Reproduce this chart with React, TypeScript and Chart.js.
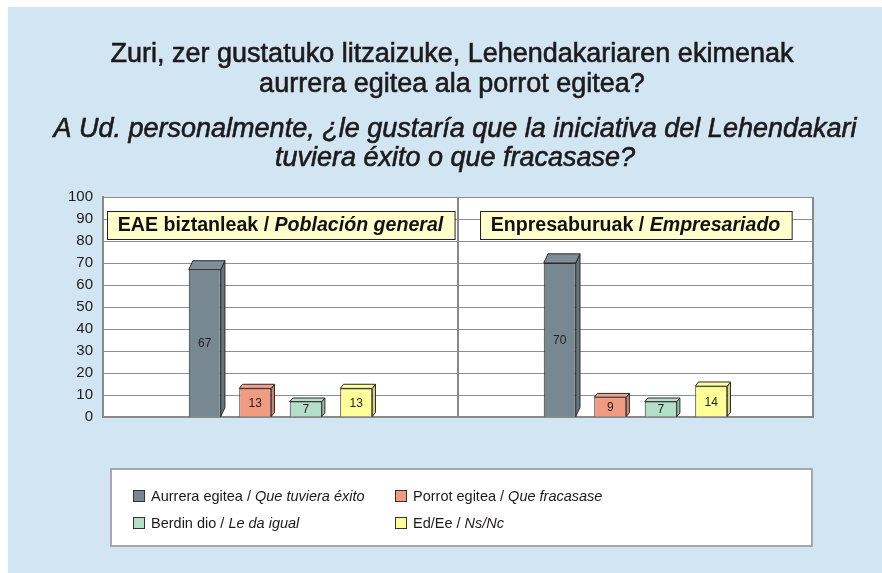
import React, { useEffect, useRef } from 'react';
import { Chart, registerables } from 'chart.js';

Chart.register(...registerables);

const categoriesEu = ['EAE biztanleak', 'Enpresaburuak'];
const categoriesEs = ['Población general', 'Empresariado'];
const seriesEu = ['Aurrera egitea', 'Porrot egitea', 'Berdin dio', 'Ed/Ee'];
const seriesEs = ['Que tuviera éxito', 'Que fracasase', 'Le da igual', 'Ns/Nc'];
const aurreraValues = [67, 70];
const porrotValues = [13, 9];
const berdinValues = [7, 7];
const ededValues = [13, 14];
const yMin = 0;
const yMax = 100;
const yStep = 10;
const titleLines = ['Zuri, zer gustatuko litzaizuke, Lehendakariaren ekimenak', 'aurrera egitea ala porrot egitea?'];
const subtitleLines = ['A Ud. personalmente, ¿le gustaría que la iniciativa del Lehendakari', 'tuviera éxito o que fracasase?'];
const seriesColors = ['#788893', '#f19c82', '#b3dec8', '#ffff99'];

const FAMILY = "'Liberation Sans', Arial, Helvetica, sans-serif";
const TEXT = '#1e1a1b';

function shade(hex: string, amt: number): string {
  const n = parseInt(hex.slice(1), 16);
  const r = (n >> 16) & 255, g = (n >> 8) & 255, b = n & 255;
  const f = (c: number) => Math.max(0, Math.min(255, Math.round(amt < 0 ? c * (1 + amt) : c + (255 - c) * amt)));
  return `rgb(${f(r)},${f(g)},${f(b)})`;
}

const areaBgPlugin = {
  id: 'areaBg',
  beforeDraw(chart: any) {
    const { ctx, chartArea: a } = chart;
    ctx.save();
    ctx.fillStyle = '#ffffff';
    ctx.fillRect(a.left, a.top, a.right - a.left, a.bottom - a.top);
    ctx.restore();
  },
};

const titlePlugin = {
  id: 'titleText',
  afterDraw(chart: any) {
    const ctx = chart.ctx;
    const cx = 444;
    ctx.save();
    ctx.fillStyle = TEXT;
    ctx.strokeStyle = TEXT;
    ctx.lineWidth = 0.6;
    ctx.textAlign = 'center';
    ctx.textBaseline = 'alphabetic';
    ctx.font = `27px ${FAMILY}`;
    titleLines.forEach((t, i) => {
      const y = 55 + i * 30;
      ctx.fillText(t, cx, y);
      ctx.strokeText(t, cx, y);
    });
    ctx.font = `italic 27px ${FAMILY}`;
    subtitleLines.forEach((t, i) => {
      const y = 130 + i * 29;
      ctx.fillText(t, cx + 3, y);
      ctx.strokeText(t, cx + 3, y);
    });
    ctx.restore();
  },
};

const bar3dPlugin = {
  id: 'bar3d',
  afterDatasetsDraw(chart: any) {
    const ctx = chart.ctx;
    chart.data.datasets.forEach((ds: any, di: number) => {
      const meta = chart.getDatasetMeta(di);
      meta.data.forEach((bar: any, i: number) => {
        const { x, y, base, width } = bar.getProps(['x', 'y', 'base', 'width'], true);
        const left = x - width / 2;
        const right = x + width / 2;
        const h = base - y;
        const dx = 3 + h * 0.008;
        const dy = 3 + h * 0.04;
        const color = ds.backgroundColor as string;
        ctx.save();
        ctx.lineWidth = 1;
        ctx.strokeStyle = '#2a2a2a';
        ctx.lineJoin = 'round';
        ctx.beginPath();
        ctx.moveTo(right, y);
        ctx.lineTo(right + dx, y - dy);
        ctx.lineTo(right + dx, base - dy);
        ctx.lineTo(right, base);
        ctx.closePath();
        ctx.fillStyle = shade(color, -0.15);
        ctx.fill();
        ctx.stroke();
        ctx.beginPath();
        ctx.moveTo(left, y);
        ctx.lineTo(left + dx, y - dy);
        ctx.lineTo(right + dx, y - dy);
        ctx.lineTo(right, y);
        ctx.closePath();
        ctx.fillStyle = shade(color, 0.05);
        ctx.fill();
        ctx.stroke();
        ctx.fillStyle = '#222';
        ctx.font = `12px ${FAMILY}`;
        ctx.textAlign = 'center';
        ctx.textBaseline = 'middle';
        ctx.fillText(String(ds.data[i]), x, (y + base) / 2 + 1);
        ctx.restore();
      });
    });
  },
};

const panelLabelPlugin = {
  id: 'panelLabels',
  afterDraw(chart: any) {
    const ctx = chart.ctx;
    const xs = chart.scales.x;
    const area = chart.chartArea;
    categoriesEu.forEach((eu, i) => {
      const es = categoriesEs[i];
      const fBold = `bold 19.6px ${FAMILY}`;
      const fItal = `italic bold 19.6px ${FAMILY}`;
      ctx.save();
      ctx.font = fBold;
      const p1 = eu + ' / ';
      const w1 = ctx.measureText(p1).width;
      ctx.font = fItal;
      const w2 = ctx.measureText(es).width;
      const total = w1 + w2;
      const cx = xs.getPixelForValue(i);
      const boxW = total + 22;
      const top = area.top + 14;
      const boxH = 28;
      const bx = Math.round(cx - boxW / 2) + 0.5;
      ctx.fillStyle = '#ffffcc';
      ctx.fillRect(bx, top + 0.5, boxW, boxH);
      ctx.strokeStyle = '#222';
      ctx.lineWidth = 1;
      ctx.strokeRect(bx, top + 0.5, boxW, boxH);
      ctx.fillStyle = '#111';
      ctx.textBaseline = 'middle';
      ctx.textAlign = 'left';
      const tx = cx - total / 2;
      const ty = top + boxH / 2 + 1;
      ctx.font = fBold;
      ctx.fillText(p1, tx, ty);
      ctx.font = fItal;
      ctx.fillText(es, tx + w1, ty);
      ctx.restore();
    });
  },
};

const legendPlugin = {
  id: 'customLegend',
  afterDraw(chart: any) {
    const ctx = chart.ctx;
    const area = chart.chartArea;
    const left = area.left + 8;
    const right = area.right - 1;
    const top = area.bottom + 52;
    const h = 77;
    ctx.save();
    ctx.fillStyle = '#ffffff';
    ctx.fillRect(left, top, right - left, h);
    ctx.strokeStyle = '#a8a8a8';
    ctx.lineWidth = 2;
    ctx.strokeRect(left, top, right - left, h);
    const colX = [left + 22, left + 284];
    const rowY = [top + 27, top + 54];
    seriesEu.forEach((eu, i) => {
      const col = i % 2;
      const row = Math.floor(i / 2);
      const sx = colX[col];
      const cy = rowY[row];
      ctx.fillStyle = seriesColors[i];
      ctx.fillRect(sx + 0.5, cy - 5.5, 11, 11);
      ctx.strokeStyle = '#333';
      ctx.lineWidth = 1;
      ctx.strokeRect(sx + 0.5, cy - 5.5, 11, 11);
      ctx.fillStyle = TEXT;
      ctx.textBaseline = 'middle';
      ctx.textAlign = 'left';
      const p1 = eu + ' / ';
      ctx.font = `14.5px ${FAMILY}`;
      const tx = sx + 18;
      ctx.fillText(p1, tx, cy + 1);
      const w1 = ctx.measureText(p1).width;
      ctx.font = `italic 14.5px ${FAMILY}`;
      ctx.fillText(seriesEs[i], tx + w1, cy + 1);
    });
    ctx.restore();
  },
};

export default function App() {
  const ref = useRef<HTMLCanvasElement | null>(null);
  useEffect(() => {
    if (!ref.current) return;
    const valueSets = [aurreraValues, porrotValues, berdinValues, ededValues];
    const chart = new Chart(ref.current, {
      type: 'bar',
      data: {
        labels: categoriesEu,
        datasets: valueSets.map((vals, i) => ({
          label: seriesEu[i] + ' / ' + seriesEs[i],
          data: vals,
          backgroundColor: seriesColors[i],
          borderColor: '#2a2a2a',
          borderWidth: 1,
          categoryPercentage: 0.569,
          barPercentage: 0.634,
        })),
      },
      options: {
        animation: false,
        responsive: false,
        devicePixelRatio: 1,
        layout: { padding: { left: 0, right: 69, top: 190, bottom: 156 } },
        plugins: {
          legend: { display: false },
          tooltip: { enabled: false },
          title: { display: false },
          subtitle: { display: false },
        },
        scales: {
          x: {
            type: 'category',
            offset: true,
            grid: { offset: true, color: '#888888', lineWidth: 2, drawTicks: false },
            ticks: { display: false },
            border: { display: true, color: '#888888', width: 2 },
          },
          y: {
            type: 'linear',
            position: 'left',
            min: yMin,
            max: yMax,
            ticks: { stepSize: yStep, padding: 10, color: TEXT, font: { family: FAMILY, size: 15 } },
            grid: { color: '#8e8e8e', lineWidth: 1, drawTicks: false },
            border: { display: true, color: '#888888', width: 2 },
            afterFit: (s: any) => { s.width = 95; },
          },
        },
      } as any,
      plugins: [areaBgPlugin, bar3dPlugin, panelLabelPlugin, legendPlugin, titlePlugin],
    });
    return () => chart.destroy();
  }, []);
  return (
    <div style={{ position: 'absolute', left: 8, top: 7, width: 874, height: 566, background: '#d1e5f3' }}>
      <canvas ref={ref} width={874} height={566} style={{ display: 'block', width: 874, height: 566 }} />
    </div>
  );
}
